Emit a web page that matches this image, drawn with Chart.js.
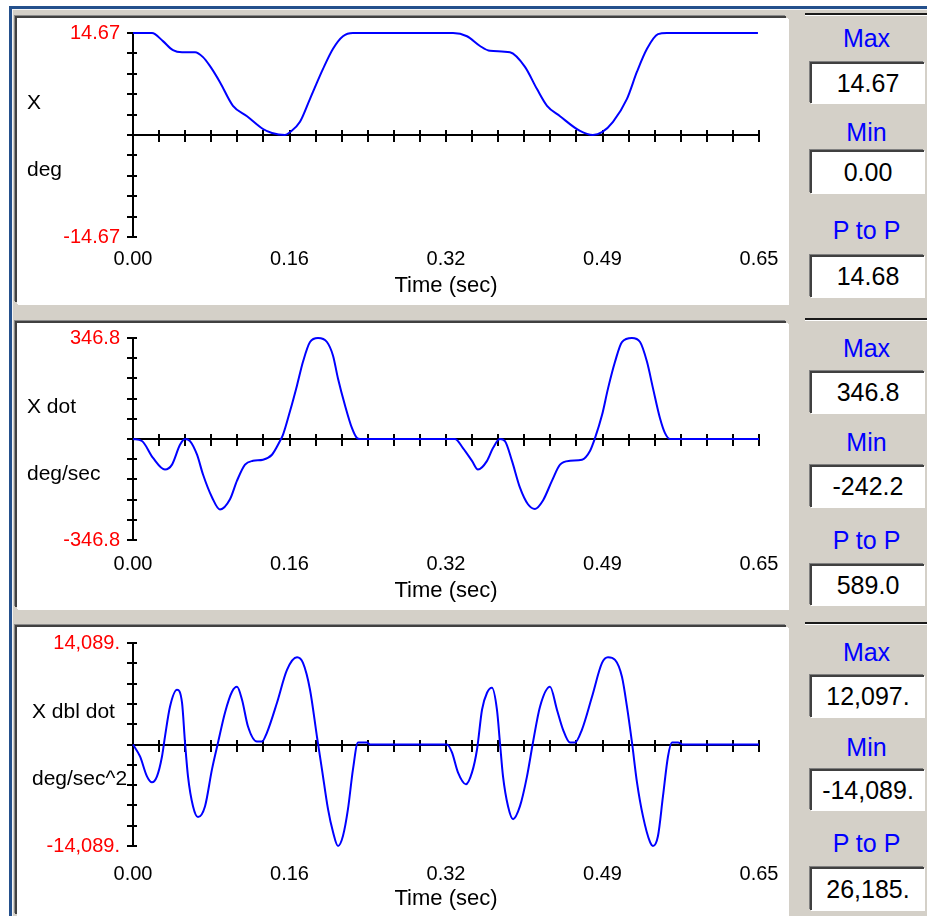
<!DOCTYPE html>
<html><head><meta charset="utf-8">
<script src="https://cdn.jsdelivr.net/npm/chart.js@4.4.0/dist/chart.umd.min.js"></script>
<style>
html,body{margin:0;padding:0;background:#fff}
body{position:relative;width:927px;height:916px;overflow:hidden;font-family:"Liberation Sans",Arial,sans-serif}
#win{position:absolute;left:9px;top:6px;width:930px;height:920px;background:#d4d0c8;border-top:3px solid #24508c;border-left:3px solid #24508c;box-shadow:inset 1px 1px 0 #f4f4f4}
.panel{position:absolute;left:17px;width:771px;background:#fff;box-shadow:-2px -2px 0 0 #404040,-3px -3px 0 0 #8a8a8a,1px 1px 0 0 #fff}
.panel canvas{display:block}
.sline{position:absolute;left:805px;width:122px;height:2px;background:#1a1a1a;box-shadow:0 1px 0 #fff}
.head{position:absolute;left:808px;width:117px;height:30px;line-height:30px;text-align:center;color:#0000ff;font-size:25px}
.box{position:absolute;left:810px;width:114px;box-sizing:border-box;background:#fff;border-top:2px solid #404040;border-left:2px solid #404040;box-shadow:-1px -1px 0 #808080,1px 1px 0 #fff;text-align:center;font-size:25px;color:#000}
</style></head>
<body>
<div id="win"></div>
<script>
// ---------- data ----------
const xTitle = "Time (sec)";
const xTickValues = [0, 0.1625, 0.325, 0.4875, 0.65];
const xTickLabels = ["0.00", "0.16", "0.32", "0.49", "0.65"];

const yRanges = [14.67, 346.8, 14089];
const yTickLabels = [["-14.67", "14.67"], ["-346.8", "346.8"], ["-14,089.", "14,089."]];
const yTitles = [["X", "deg"], ["X dot", "deg/sec"], ["X dbl dot", "deg/sec^2"]];

const xTime = [0,0.0197,0.0311,0.0415,0.0509,0.0644,0.0727,0.0800,0.0903,0.1038,0.1184,0.1350,0.1443,0.1578,0.1630,0.1734,0.1838,0.1973,0.2077,0.2180,0.2284,0.3323,0.3468,0.3603,0.3707,0.3914,0.4070,0.4195,0.4299,0.4434,0.4641,0.4776,0.4870,0.4984,0.5129,0.5233,0.5337,0.5451,0.5545,0.6489];
const xDeg = [14.67,14.67,13.5,12.2,11.9,11.9,11.2,9.9,7.6,4.2,2.7,0.86,0.29,0,0.4,1.9,5.2,9.5,12.4,14.2,14.67,14.67,14.2,12.8,12.1,11.9,9.8,6.6,4.2,2.7,0.58,0,0.4,1.9,5.2,9.1,12.4,14.5,14.67,14.67];

const xDotTime = [0,0.0093,0.0208,0.0332,0.0405,0.0488,0.0540,0.0592,0.0665,0.0727,0.0820,0.0903,0.1007,0.1080,0.1163,0.1246,0.1350,0.1443,0.1526,0.1557,0.1630,0.1703,0.1765,0.1838,0.1921,0.2014,0.2077,0.2129,0.2201,0.2274,0.2326,0.2357,0.3343,0.3426,0.3520,0.3582,0.3676,0.3738,0.3810,0.3862,0.3935,0.4018,0.4101,0.4174,0.4257,0.4351,0.4434,0.4538,0.4662,0.4745,0.4797,0.4870,0.4932,0.5005,0.5077,0.5181,0.5265,0.5337,0.5400,0.5472,0.5524,0.5576,0.65];
const xDot = [0,-7,-65,-105,-88,-20,0,-7,-54,-122,-200,-242.2,-207,-143,-88,-75,-71,-54,-7,14,95,184,265,333,346.8,333,286,207,116,37,3,0,0,-31,-75,-105,-75,-31,0,-7,-75,-167,-224,-240,-211,-143,-88,-75,-71,-41,3,82,173,265,333,346.8,333,265,173,71,20,0,0];

const xDblTime = [0,0.0073,0.0145,0.0197,0.0249,0.0301,0.0332,0.0384,0.0457,0.0509,0.0540,0.0571,0.0623,0.0675,0.0748,0.0820,0.0883,0.0955,0.1028,0.1080,0.1132,0.1194,0.1287,0.1339,0.1391,0.1495,0.1599,0.1703,0.1765,0.1838,0.1910,0.1962,0.2025,0.2077,0.2129,0.2180,0.2232,0.2284,0.2336,0.2378,0.2430,0.2461,0.3260,0.3312,0.3374,0.3457,0.3520,0.3572,0.3624,0.3676,0.3727,0.3779,0.3810,0.3842,0.3894,0.3946,0.4018,0.4091,0.4153,0.4226,0.4330,0.4402,0.4465,0.4537,0.4589,0.4662,0.4766,0.4870,0.4932,0.5005,0.5077,0.5129,0.5181,0.5233,0.5295,0.5368,0.5399,0.5451,0.5503,0.5555,0.5596,0.5659,0.5711,0.65];
const xDbl = [0,-1660,-4420,-5250,-4420,-1660,1100,5250,7600,5800,280,-4420,-8560,-10080,-8560,-3450,280,4420,7320,8010,6210,2490,400,400,1660,5800,10360,12097,11320,7600,1100,-3450,-8980,-12150,-14089,-12700,-8980,-3450,280,280,280,0,0,-1100,-3870,-5520,-3870,-690,4830,7180,7870,4830,280,-4420,-8560,-10360,-8560,-4420,280,5250,8010,4830,2070,280,280,2070,6630,11320,12097,11740,9390,5250,280,-5250,-9940,-13530,-14089,-12700,-7180,-1660,280,280,0,0];

const seriesTimes = [xTime, xDotTime, xDblTime];
const seriesValues = [xDeg, xDot, xDbl];

const statLabels = ["Max", "Min", "P to P"];
const statValues = [["14.67", "0.00", "14.68"], ["346.8", "-242.2", "589.0"], ["12,097.", "-14,089.", "26,185."]];

// ---------- layout ----------
const panelTops = [18, 323, 627];
const panelHeights = [286, 286, 289];
const layoutCfg = [
  {top: 15, xh: 67, tp: 10, pb: 5, tx: 10},
  {top: 15, xh: 69, tp: 12, pb: 5, tx: 10},
  {top: 16, xh: 70, tp: 16, pb: 4, tx: 15}
];
const sideLayout = [
  {line: 13, heads: [38, 132, 230], boxes: [[62, 103], [150, 193], [255, 297]]},
  {line: 318, heads: [348, 442, 540], boxes: [[371, 413], [465, 507], [564, 605]]},
  {line: 622, heads: [652, 747, 843], boxes: [[675, 717], [769, 810], [867, 910]]}
];

Chart.defaults.font.family = '"Liberation Sans", Arial, sans-serif';
Chart.defaults.font.size = 20;

const axesPlugin = {
  id: 'axes',
  beforeDatasetsDraw(chart) {
    const {ctx, chartArea: a, scales: {x, y}} = chart;
    ctx.save();
    ctx.strokeStyle = '#000';
    ctx.lineWidth = 2;
    const y0 = Math.round(y.getPixelForValue(0));
    ctx.beginPath();
    ctx.moveTo(a.left, a.top - 1); ctx.lineTo(a.left, a.bottom + 1);
    ctx.moveTo(a.left, y0); ctx.lineTo(a.right + 1, y0);
    for (let i = 0; i <= 10; i++) {
      const py = Math.round(y.getPixelForValue(y.min + (y.max - y.min) * i / 10));
      ctx.moveTo(a.left - 6, py); ctx.lineTo(a.left + 4, py);
    }
    for (let i = 0; i <= 24; i++) {
      const px = Math.round(x.getPixelForValue(x.min + (x.max - x.min) * i / 24));
      ctx.moveTo(px, y0 - 5); ctx.lineTo(px, y0 + 7);
    }
    ctx.stroke();
    ctx.restore();
  },
  afterDraw(chart, args, opts) {
    const {ctx, scales: {y}} = chart;
    const y0 = y.getPixelForValue(0);
    ctx.save();
    ctx.fillStyle = '#000';
    ctx.font = '21px "Liberation Sans", Arial, sans-serif';
    ctx.textAlign = 'left';
    ctx.textBaseline = 'middle';
    ctx.fillText(opts.titles[0], opts.titleX, y0 - 32);
    ctx.fillText(opts.titles[1], opts.titleX, y0 + 35);
    ctx.restore();
  }
};

function build(i) {
  const p = document.createElement('div');
  p.className = 'panel';
  p.style.top = panelTops[i] + 'px';
  p.style.height = panelHeights[i] + 'px';
  const cv = document.createElement('canvas');
  cv.width = 771; cv.height = panelHeights[i];
  cv.style.width = '771px'; cv.style.height = panelHeights[i] + 'px';
  p.appendChild(cv);
  document.body.appendChild(p);
  const L = layoutCfg[i];
  const R = yRanges[i];
  new Chart(cv, {
    type: 'line',
    data: {datasets: [{
      data: seriesTimes[i].map((t, k) => ({x: t, y: seriesValues[i][k]})),
      borderColor: '#0000ff', borderWidth: 2, pointRadius: 0, fill: false,
      cubicInterpolationMode: 'monotone', clip: 6
    }]},
    options: {
      responsive: false, animation: false, devicePixelRatio: 1, events: [],
      layout: {padding: {top: L.top, left: 0, right: 29, bottom: 0}},
      plugins: {legend: {display: false}, tooltip: {enabled: false}, axes: {titles: yTitles[i], titleX: L.tx}},
      scales: {
        x: {
          type: 'linear', min: 0, max: 0.65,
          grid: {display: false, drawTicks: false}, border: {display: false},
          afterBuildTicks: s => { s.ticks = xTickValues.map(v => ({value: v})); },
          afterFit: s => { s.height = L.xh; s.paddingLeft = 0; s.paddingRight = 0; },
          ticks: {color: '#000', padding: L.tp, autoSkip: false, maxRotation: 0, callback: (v, idx) => xTickLabels[idx]},
          title: {display: true, text: xTitle, color: '#000', font: {size: 22}, padding: {top: 0, bottom: L.pb}}
        },
        y: {
          type: 'linear', min: -R, max: R,
          grid: {display: false, drawTicks: false}, border: {display: false},
          afterBuildTicks: s => { s.ticks = [{value: -R}, {value: R}]; },
          afterFit: s => { s.width = 116; s.paddingTop = 0; s.paddingBottom = 0; },
          ticks: {color: '#ff0000', padding: 13, callback: (v, idx) => yTickLabels[i][idx]}
        }
      }
    },
    plugins: [axesPlugin]
  });

  const S = sideLayout[i];
  const ln = document.createElement('div');
  ln.className = 'sline'; ln.style.top = S.line + 'px';
  document.body.appendChild(ln);
  for (let k = 0; k < 3; k++) {
    const h = document.createElement('div');
    h.className = 'head'; h.style.top = (S.heads[k] - 15) + 'px';
    h.textContent = statLabels[k];
    document.body.appendChild(h);
    const b = document.createElement('div');
    const bh = S.boxes[k][1] - S.boxes[k][0];
    b.className = 'box'; b.style.top = S.boxes[k][0] + 'px';
    b.style.height = bh + 'px'; b.style.lineHeight = (bh - 3) + 'px';
    b.textContent = statValues[i][k];
    document.body.appendChild(b);
  }
}
for (let i = 0; i < 3; i++) build(i);
</script>
</body></html>
